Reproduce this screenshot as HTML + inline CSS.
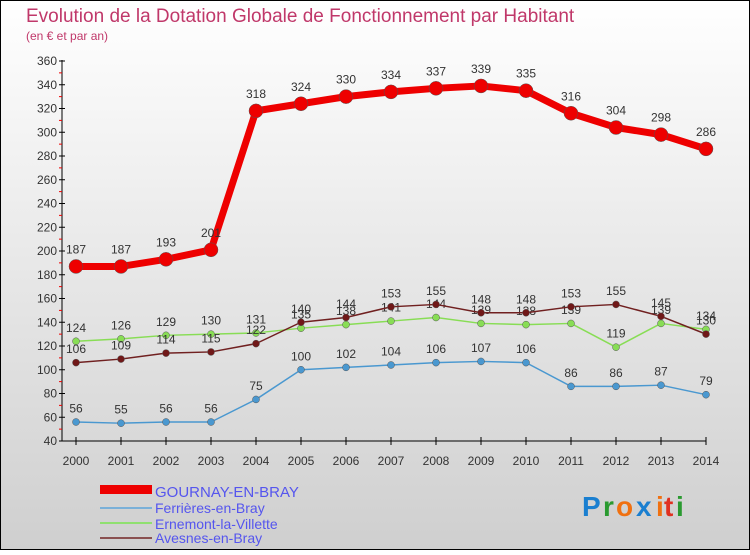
<!DOCTYPE html>
<html><head><meta charset="utf-8"><style>
body{margin:0;width:750px;height:550px;overflow:hidden}
svg text{font-family:"Liberation Sans",sans-serif}
</style></head><body>
<svg id="c" width="750" height="550" xmlns="http://www.w3.org/2000/svg">
<defs><linearGradient id="bg" x1="0" y1="0" x2="0" y2="1"><stop offset="0" stop-color="#ffffff"/><stop offset="1" stop-color="#cfcfcf"/></linearGradient></defs>
<rect x="0.5" y="0.5" width="749" height="549" fill="url(#bg)" stroke="#000"/>
<text x="26" y="22" font-size="19" fill="#c0386a">Evolution de la Dotation Globale de Fonctionnement par Habitant</text>
<text x="26" y="40" font-size="12" fill="#c0386a">(en € et par an)</text>
<g id="axes"></g><g id="series"></g>
<g>
<rect x="100" y="485" width="52" height="9" fill="#e00"/>
<text x="155" y="497" font-size="15" fill="#5555ee">GOURNAY-EN-BRAY</text>
<line x1="100" y1="508" x2="152" y2="508" stroke="#7ab0d8" stroke-width="2"/>
<text x="155" y="513" font-size="14" fill="#5555ee">Ferrières-en-Bray</text>
<line x1="100" y1="523" x2="152" y2="523" stroke="#90e070" stroke-width="2"/>
<text x="155" y="529" font-size="14" fill="#5555ee">Ernemont-la-Villette</text>
<line x1="100" y1="538" x2="152" y2="538" stroke="#8a5050" stroke-width="2"/>
<text x="155" y="543" font-size="14" fill="#5555ee">Avesnes-en-Bray</text>
</g>
<g font-size="28" font-weight="bold">
<text x="582" y="516" fill="#1a7fd0">P</text><text x="603" y="516" fill="#2a9a30">r</text><text x="616" y="516" fill="#f07010">o</text><text x="636" y="516" fill="#1a7fd0">x</text><text x="656" y="516" fill="#f07010">i</text><text x="664" y="516" fill="#e03020">t</text><text x="676" y="516" fill="#2a9a30">i</text>
</g>
</svg>
<script>
const years=["2000","2001","2002","2003","2004","2005","2006","2007","2008","2009","2010","2011","2012","2013","2014"];
const yTicks=[40,60,80,100,120,140,160,180,200,220,240,260,280,300,320,340,360];
const gournay=[187,187,193,201,318,324,330,334,337,339,335,316,304,298,286];
const ferrieres=[56,55,56,56,75,100,102,104,106,107,106,86,86,87,79];
const ernemont=[124,126,129,130,131,135,138,141,144,139,138,139,119,139,134];
const avesnes=[106,109,114,115,122,140,144,153,155,148,148,153,155,145,130];
const NS="http://www.w3.org/2000/svg";
const X=i=>76+i*45, Y=v=>441-(v-40)*380/320;
function mk(t,a,p){const e=document.createElementNS(NS,t);for(const k in a)e.setAttribute(k,a[k]);p.appendChild(e);return e;}
const ax=document.getElementById('axes'), sg=document.getElementById('series');
let l=mk('line',{x1:62,y1:60,x2:62,y2:441,stroke:'#000'},ax);


l=mk('line',{x1:62,y1:441,x2:706,y2:441,stroke:'#000'},ax);


yTicks.forEach((v,i)=>{
 mk('line',{x1:59,y1:Y(v),x2:65,y2:Y(v),stroke:'#000'},ax);
 if(i<yTicks.length-1)mk('line',{x1:59,y1:Y(v+10),x2:62,y2:Y(v+10),stroke:'#e00'},ax);
 const t=mk('text',{x:57,y:Y(v)+4,'font-size':12,fill:'#333','text-anchor':'end'},ax);t.textContent=v;
 
 
});
years.forEach((y,i)=>{
 mk('line',{x1:X(i),y1:437,x2:X(i),y2:445,stroke:'#000'},ax);
 const t=mk('text',{x:X(i),y:465,'font-size':12,fill:'#333','text-anchor':'middle'},ax);t.textContent=y;
 
 
});
function series(d,name,col,w,r,dot){
 const g=mk('g',{},sg);
 
 
 mk('polyline',{points:d.map((v,i)=>X(i)+','+Y(v)).join(' '),fill:'none',stroke:col,'stroke-width':w,'stroke-linejoin':'round'},g);
 d.forEach((v,i)=>{
  const c=mk('circle',{cx:X(i),cy:Y(v),r:r,fill:dot,stroke:'#555','stroke-width':0.5},g);
  
  
  const t=mk('text',{x:X(i),y:Y(v)-(r+6),'font-size':12,fill:'#333','text-anchor':'middle'},g);t.textContent=v;
  
  
 });
}
series(ferrieres,'ferrieres','#4a98d0',1.5,3.5,'#4a98d0');
series(ernemont,'ernemont','#88dd55',1.5,3.5,'#88dd55');
series(avesnes,'avesnes','#702020',1.5,3.5,'#701818');
series(gournay,'gournay','#ee0000',7,7,'#ee0000');
</script>
</body></html>
